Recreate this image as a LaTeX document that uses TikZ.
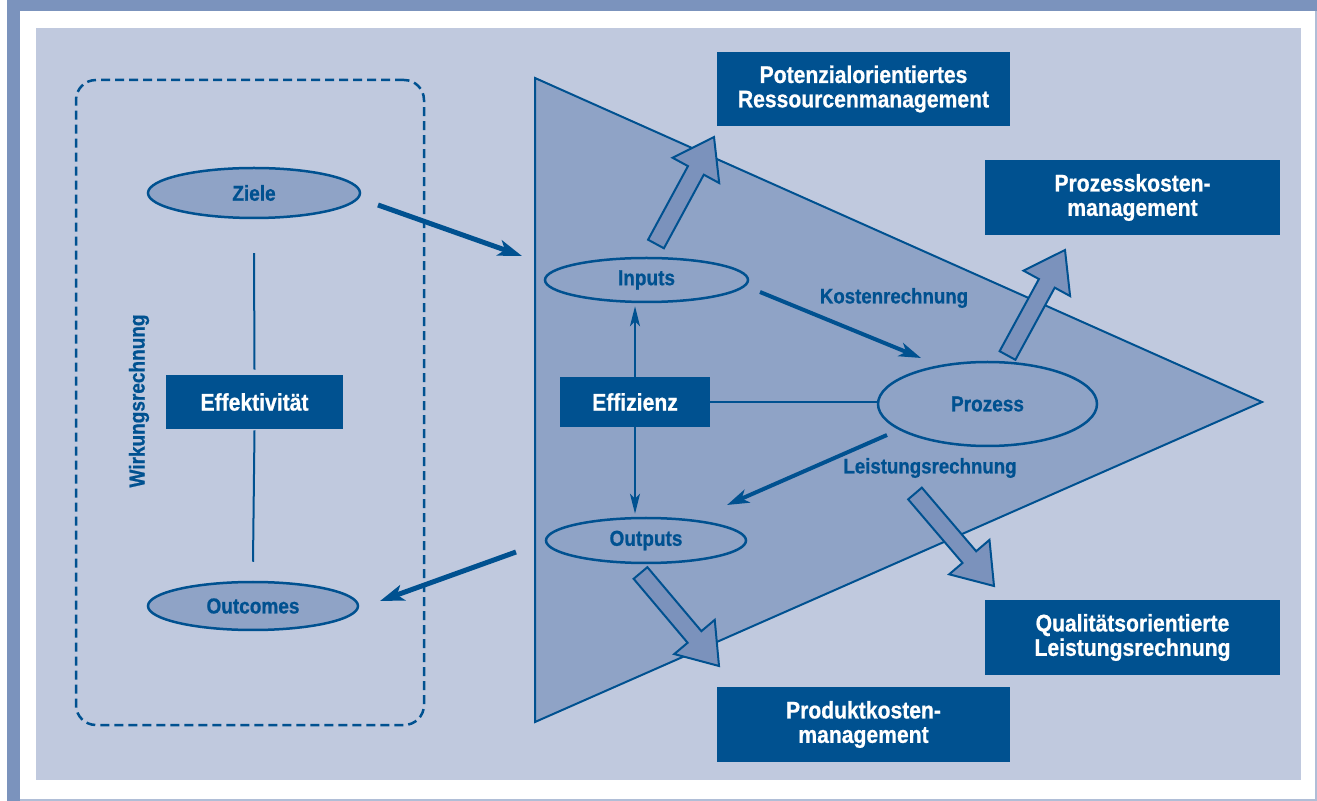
\documentclass[tikz,border=0pt]{standalone}
\usepackage{fontspec}
\setmainfont{Liberation Sans}[FakeStretch=0.88,BoldFeatures={FakeBold=0.8}]
\usetikzlibrary{arrows.meta,calc,shapes.geometric}
\definecolor{band}{HTML}{7B93BD}
\definecolor{panel}{HTML}{C0C9DE}
\definecolor{tri}{HTML}{8FA3C6}
\definecolor{dark}{HTML}{005190}
\definecolor{arrfill}{HTML}{7B92BC}
\tikzset{
  ell/.style={ellipse, draw=dark, line width=1.25pt, fill=tri, inner sep=0pt, text=dark,
    font=\bfseries\fontsize{10.8}{12}\selectfont},
  dbox/.style={rectangle, fill=dark, text=white, inner sep=0pt, align=center,
    font=\bfseries\fontsize{12}{12.2}\selectfont},
  lbl/.style={text=dark, inner sep=0pt, font=\bfseries\fontsize{10.6}{12}\selectfont},
  bigarr/.style={draw=dark, line width=2.5pt, -{Stealth[length=12pt,width=8pt,inset=3pt]}},
  midarr/.style={draw=dark, line width=2pt, -{Stealth[length=11pt,width=7pt,inset=3pt]}},
  smallarr/.style={draw=dark, line width=1pt, -{Stealth[length=10pt,width=5pt,inset=2.5pt]}},
  fatarr/.style={draw=dark, fill=arrfill, line width=1pt, line join=miter},
  plainline/.style={draw=dark, line width=1pt},
}
\newcommand\fatarrow[3]{%
  \coordinate (#1h) at ($(#3)!19pt!(#2)$);
  \draw[fatarr] ($(#2)!4.5pt!90:(#3)$) -- ($(#1h)!4.5pt!-90:(#2)$) -- ($(#1h)!13.25pt!-90:(#2)$)
    -- (#3) -- ($(#1h)!13.25pt!90:(#2)$) -- ($(#1h)!4.5pt!90:(#2)$) -- ($(#2)!4.5pt!-90:(#3)$) -- cycle;}
\begin{document}
\begin{tikzpicture}[x=0.5pt,y=-0.5pt]
\useasboundingbox (0,0) rectangle (1317,801);
\fill[white] (0,0) rectangle (1317,801);
\fill[band] (7,0) rectangle (1317,11);
\fill[band] (7,0) rectangle (20,801);
\draw[band!60, line width=0.75pt] (1316,11) -- (1316,800) -- (20,800);
\fill[panel] (36,28) rectangle (1301,780);

% left part
\node[draw=dark, dashed, dash pattern=on 4.5pt off 2.5pt, line width=1.25pt, rounded corners=10pt,
  minimum width=174pt, minimum height=322.5pt, inner sep=0pt] (wbox) at (250,402.5) {};
\node[ell, minimum width=106pt, minimum height=25pt] (ziele) at (254,193) {Ziele};
\node[dbox, minimum width=88.5pt, minimum height=27pt] (effekt) at (254.5,402) {Effektivität};
\node[ell, minimum width=105pt, minimum height=24pt] (outcomes) at (253,606) {Outcomes};
\node[lbl, rotate=90, font=\bfseries\fontsize{10.8}{12}\selectfont] (wirk) at (139,401) {Wirkungsrechnung};
\draw[plainline] ($(ziele.south)+(0,34)$) -- ($(effekt.north)+(0,-5)$);
\draw[plainline] ($(effekt.south)+(0,1)$) -- ($(outcomes.north)+(0,-19)$);

% triangle
\coordinate (t1) at (535,78);
\coordinate (t2) at (535,722);
\coordinate (t3) at (1262,402);
\draw[fill=tri, draw=dark, line width=1pt, line join=miter] (t1) -- (t2) -- (t3) -- cycle;

\node[ell, minimum width=101.5pt, minimum height=22pt] (inputs) at (646.5,280) {Inputs};
\node[dbox, minimum width=75pt, minimum height=25pt] (effiz) at (635,402) {Effizienz};
\node[ell, minimum width=100pt, minimum height=22.5pt] (outputs) at (646,540.5) {Outputs};
\node[ell, minimum width=109.5pt, minimum height=42pt] (prozess) at (987.5,404) {Prozess};

\draw[plainline] (effiz.east) -- (effiz.east -| prozess.west);
\draw[smallarr] (effiz.north) -- ($(effiz.north |- inputs.south)+(0,3)$);
\draw[smallarr] (effiz.south) -- ($(effiz.south |- outputs.north)+(0,-3)$);

\node[lbl] (kosten) at (894,298) {Kostenrechnung};
\node[lbl] (leist) at (930,468) {Leistungsrechnung};

% thin arrows
\coordinate (z1) at (378,205); \coordinate (z2) at (522,256);
\coordinate (k1) at (760,292); \coordinate (k2) at (921,358);
\coordinate (l1) at (887,435); \coordinate (l2) at (727,505);
\coordinate (o1) at (516,552); \coordinate (o2) at (380,601);
\draw[bigarr] (z1) -- (z2);
\draw[midarr] (k1) -- (k2);
\draw[midarr] (l1) -- (l2);
\draw[bigarr] (o1) -- (o2);

% fat arrows
\coordinate (a1t) at (656,244);   \coordinate (a1p) at (714,137);
\coordinate (a2t) at (1007.5,355.5); \coordinate (a2p) at (1065,250);
\coordinate (a3t) at (640.5,573); \coordinate (a3p) at (719,666);
\coordinate (a4t) at (915,493.5); \coordinate (a4p) at (994,586);
\fatarrow{fa}{a1t}{a1p}
\fatarrow{fb}{a2t}{a2p}
\fatarrow{fc}{a3t}{a3p}
\fatarrow{fd}{a4t}{a4p}

% boxes
\node[dbox, minimum width=146.5pt, minimum height=37pt] (potenz) at (863.5,89)
  {Potenzialorientiertes\\Ressourcenmanagement};
\node[dbox, minimum width=147.5pt, minimum height=37.5pt] (pkm) at (1132.5,197.5)
  {Prozesskosten-\\management};
\node[dbox, minimum width=147.5pt, minimum height=37.5pt] (qual) at (1132.5,637.5)
  {Qualitätsorientierte\\Leistungsrechnung};
\node[dbox, minimum width=146.5pt, minimum height=37.5pt] (prod) at (863.5,724.5)
  {Produktkosten-\\management};
\end{tikzpicture}
\end{document}
